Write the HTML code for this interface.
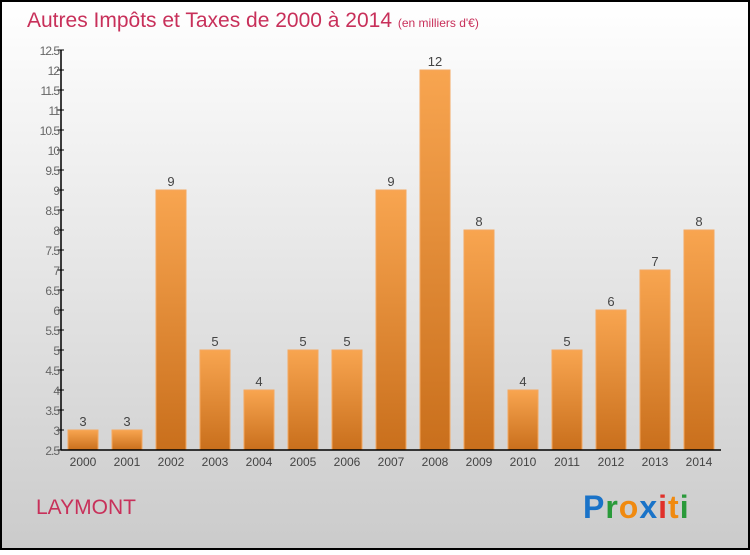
<!DOCTYPE html>
<html><head><meta charset="utf-8"><style>
body{margin:0}
#c{width:750px;height:550px;position:relative;font-family:"Liberation Sans",sans-serif}
</style></head><body>
<div id="c">
<svg id="s" width="750" height="550" xmlns="http://www.w3.org/2000/svg">
<defs>
<linearGradient id="bg" x1="0" y1="0" x2="0" y2="1"><stop offset="0" stop-color="#ffffff"/><stop offset="1" stop-color="#cbcbcb"/></linearGradient>
<linearGradient id="bar" x1="0" y1="0" x2="0" y2="1"><stop offset="0" stop-color="#f8a550"/><stop offset="1" stop-color="#c96f1c"/></linearGradient>
</defs>
<rect x="1" y="1" width="748" height="548" fill="url(#bg)" stroke="#000" stroke-width="2"/>
<text x="27" y="27" font-size="21" fill="#c8305a">Autres Impôts et Taxes de 2000 à 2014 <tspan font-size="12">(en milliers d'€)</tspan></text>
<text x="36" y="514" font-size="21" fill="#c8305a">LAYMONT</text>
<g font-size="32" font-weight="bold" font-family="'Liberation Sans',sans-serif">
<text x="583" y="518" letter-spacing="1"><tspan fill="#1a73c8">P</tspan><tspan fill="#2a9a3a">r</tspan><tspan fill="#f08a10">o</tspan><tspan fill="#1a73c8">x</tspan><tspan fill="#e0302a">i</tspan><tspan fill="#f08a10">t</tspan><tspan fill="#2a9a3a">i</tspan></text>
</g>
<g id="plot"></g>
</svg>
</div>
<script>
const categories=["2000","2001","2002","2003","2004","2005","2006","2007","2008","2009","2010","2011","2012","2013","2014"];
const values=[3,3,9,5,4,5,5,9,12,8,4,5,6,7,8];
const yTicks=[2.5,3,3.5,4,4.5,5,5.5,6,6.5,7,7.5,8,8.5,9,9.5,10,10.5,11,11.5,12,12.5];
const ns="http://www.w3.org/2000/svg";
const g=document.getElementById('plot');
const x0=61,band=44,yMin=2.5,yMax=12.5,yTop=50,yBot=450;
const y=v=>yBot-(v-yMin)/(yMax-yMin)*(yBot-yTop);
const xc=i=>x0+band*(i+0.5);
function mk(t,a){const e=document.createElementNS(ns,t);for(const k in a)e.setAttribute(k,a[k]);g.appendChild(e);return e;}
values.forEach((v,i)=>{
 const r=mk('rect',{x:xc(i)-15,y:y(v),width:30,height:yBot-y(v),fill:'url(#bar)',stroke:'#f4a860','stroke-width':1});
 
 
 const t=mk('text',{x:xc(i),y:y(v)-4,'font-size':13,fill:'#444','text-anchor':'middle'});
 t.textContent=v;
 
 
 const xl=mk('text',{x:xc(i),y:466,'font-size':12,fill:'#444','text-anchor':'middle'});
 xl.textContent=categories[i];
 
 
});
yTicks.forEach(v=>{
 const l=mk('line',{x1:x0-4,x2:x0+3,y1:y(v),y2:y(v),stroke:'#000'});
 
 
 const t=mk('text',{x:x0-2,y:y(v)+5,'font-size':12,fill:'#666','text-anchor':'end','letter-spacing':'-1'});
 t.textContent=v;
 
 
});
const ya=mk('line',{x1:x0,x2:x0,y1:yTop,y2:yBot,stroke:'#000','stroke-width':1.5});


const xa=mk('line',{x1:x0,x2:x0+band*15,y1:yBot,y2:yBot,stroke:'#000','stroke-width':1.5});


</script>
</body></html>
